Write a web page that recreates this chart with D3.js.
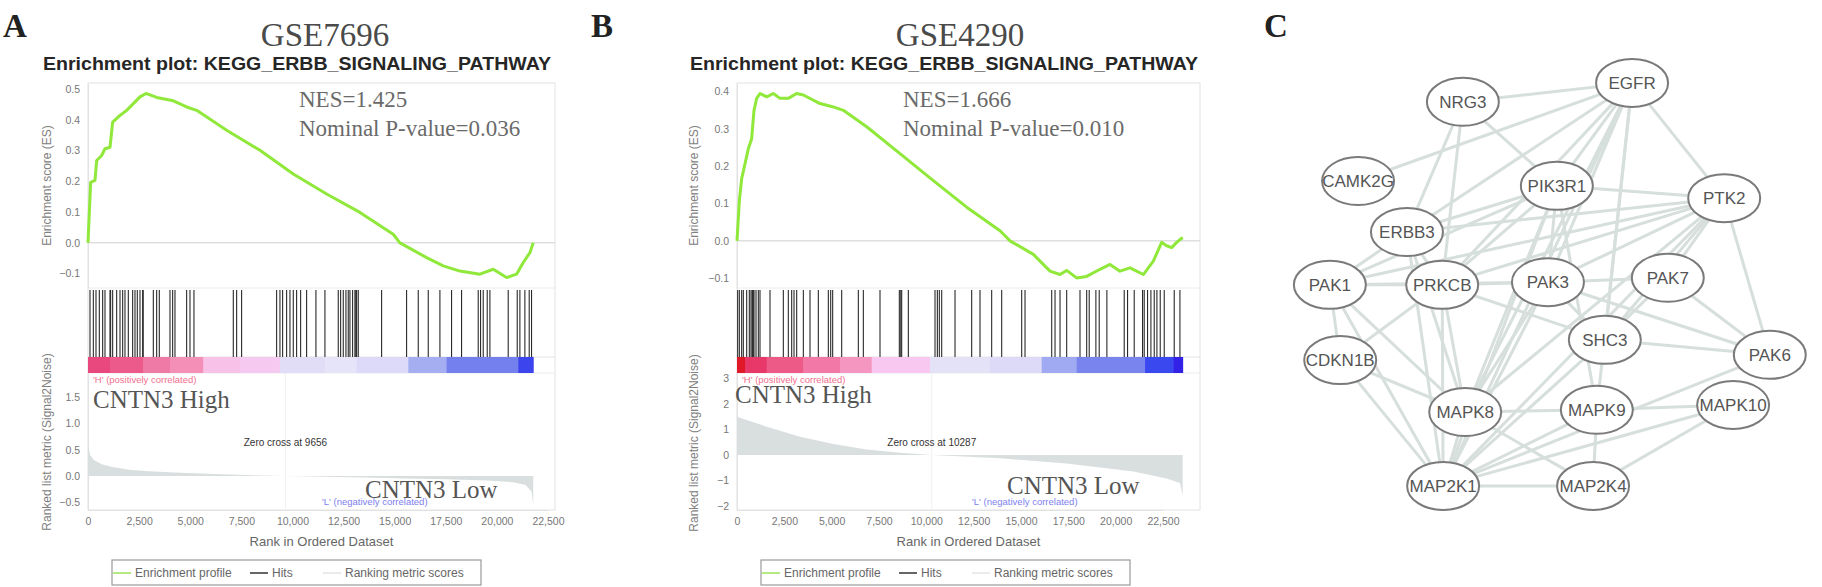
<!DOCTYPE html>
<html><head><meta charset="utf-8">
<script src="https://cdn.jsdelivr.net/npm/d3@7/dist/d3.min.js"></script>
<style>body{margin:0;background:#fff}svg{display:block}</style>
</head><body>
<svg id="c" width="1822" height="587"></svg>
<script>
// ---------------- DATA ----------------
const rankTicks = [0, 2500, 5000, 7500, 10000, 12500, 15000, 17500, 20000, 22500];
const rankTickLabels = ["0", "2,500", "5,000", "7,500", "10,000", "12,500", "15,000", "17,500", "20,000", "22,500"];

// Panel A : GSE7696
const datasetA = "GSE7696";
const nesTextA = ["NES=1.425", "Nominal P-value=0.036"];
const zeroCrossA = 9656;
const geneCountA = 21778;
const esTicksA = [-0.1, 0.0, 0.1, 0.2, 0.3, 0.4, 0.5];
const metricTicksA = [-0.5, 0.0, 0.5, 1.0, 1.5];
const esRankA = [0, 130, 342, 424, 668, 831, 1076, 1206, 1483, 1891, 2217, 2543, 2836, 3358, 4174, 4826, 5315, 6782, 8411, 10040, 11672, 13301, 14930, 15256, 16563, 17375, 18191, 19169, 19822, 20474, 20963, 21289, 21615, 21778];
const esScoreA = [0, 0.197, 0.203, 0.268, 0.284, 0.306, 0.311, 0.393, 0.41, 0.431, 0.453, 0.475, 0.486, 0.473, 0.462, 0.442, 0.431, 0.366, 0.301, 0.224, 0.159, 0.099, 0.028, 0.0, -0.048, -0.075, -0.092, -0.102, -0.086, -0.113, -0.102, -0.064, -0.032, 0.0];
const hitRankA = [98, 261, 391, 554, 717, 831, 1076, 1106, 1206, 1402, 1565, 1695, 1809, 1972, 2184, 2298, 2412, 2543, 2673, 2700, 3195, 3358, 3488, 4010, 4140, 4254, 4825, 4988, 5183, 7107, 7270, 7514, 9226, 9389, 9519, 9715, 9878, 10041, 10204, 10400, 10693, 11149, 11589, 12241, 12356, 12486, 12616, 12730, 12812, 12942, 13056, 13100, 13138, 13219, 14361, 15583, 16154, 16643, 17213, 17783, 18272, 19087, 19201, 19332, 19527, 19658, 20554, 20995, 21125, 21369, 21581, 21695];
const metricRankA = [0, 100, 300, 700, 1200, 2000, 3000, 4500, 6500, 8500, 9656, 11500, 13500, 15500, 17500, 19500, 20800, 21400, 21700, 21778];
const metricValueA = [0.62, 0.40, 0.30, 0.22, 0.17, 0.12, 0.09, 0.06, 0.035, 0.012, 0, -0.015, -0.03, -0.045, -0.06, -0.085, -0.12, -0.17, -0.3, -0.55];
const barStartA = [0, 1076, 2706, 4010, 5640, 7433, 9389, 11589, 13138, 15665, 17539, 21043];
const barColorA = ["#e8487e", "#ec5a8c", "#f07aa6", "#f48fb8", "#f8c2e8", "#f6caf0", "#e2ddf6", "#e6e4f8", "#dcdaf8", "#a6aef2", "#7480ee", "#3c44ee"];

// Panel B : GSE4290
const datasetB = "GSE4290";
const nesTextB = ["NES=1.666", "Nominal P-value=0.010"];
const zeroCrossB = 10287;
const geneCountB = 23538;
const esTicksB = [-0.1, 0.0, 0.1, 0.2, 0.3, 0.4];
const metricTicksB = [-2, -1, 0, 1, 2, 3];
const esRankB = [0, 123, 246, 422, 598, 774, 898, 1039, 1215, 1567, 1919, 2271, 2711, 3151, 3503, 4384, 5088, 5616, 6850, 8610, 10370, 12131, 13892, 14420, 15652, 16532, 17060, 17412, 17940, 18468, 19173, 19701, 20229, 20757, 21461, 21989, 22429, 22693, 22957, 23221, 23538];
const esScoreB = [0, 0.107, 0.166, 0.206, 0.246, 0.273, 0.349, 0.381, 0.394, 0.385, 0.394, 0.381, 0.381, 0.394, 0.39, 0.367, 0.358, 0.349, 0.305, 0.233, 0.161, 0.09, 0.027, 0.0, -0.036, -0.081, -0.09, -0.079, -0.099, -0.095, -0.076, -0.063, -0.081, -0.072, -0.09, -0.054, -0.004, -0.013, -0.018, -0.004, 0.009];
const hitRankB = [35, 123, 246, 334, 511, 651, 739, 800, 828, 860, 898, 1004, 1127, 1215, 1743, 2447, 2711, 2888, 3011, 3152, 3504, 3856, 4296, 4824, 4948, 5053, 5529, 6409, 6673, 7553, 8574, 8650, 8698, 9050, 10458, 10582, 10687, 10811, 11515, 12395, 12835, 13451, 13980, 15036, 15212, 16621, 16797, 17061, 17413, 18116, 18469, 18603, 18955, 19131, 19536, 20452, 20628, 20980, 21420, 21508, 21684, 21861, 22037, 22178, 22354, 22565, 23093, 23394];
const metricRankB = [0, 1567, 3328, 5088, 6850, 8610, 10287, 13892, 17412, 20933, 22693, 23397, 23538];
const metricValueB = [1.5, 1.11, 0.72, 0.43, 0.22, 0.09, 0, -0.13, -0.33, -0.65, -0.92, -1.1, -1.6];
const barStartB = [0, 422, 1567, 3504, 5441, 7114, 10194, 13364, 16093, 17942, 21551, 23048];
const barColorB = ["#e01828", "#e8386a", "#ee5a88", "#f278a8", "#f596c0", "#f8c8f0", "#e4e2f7", "#dcdaf7", "#a0aaf2", "#7a84ee", "#3a48f0", "#3222e8"];

const legendLabels = ["Enrichment profile", "Hits", "Ranking metric scores"];
const chartTitle = "Enrichment plot: KEGG_ERBB_SIGNALING_PATHWAY";

// Panel C : interaction network (layout units 0..1)
const nodeNames = ["EGFR", "NRG3", "CAMK2G", "PIK3R1", "PTK2", "ERBB3", "PAK1", "PRKCB", "PAK3", "PAK7", "SHC3", "PAK6", "CDKN1B", "MAPK8", "MAPK9", "MAPK10", "MAP2K1", "MAP2K4"];
const nodeLayoutX = [0.664, 0.304, 0.081, 0.504, 0.860, 0.185, 0.021, 0.260, 0.485, 0.740, 0.606, 0.957, 0.043, 0.309, 0.589, 0.879, 0.262, 0.581];
const nodeLayoutY = [0.052, 0.095, 0.275, 0.286, 0.314, 0.391, 0.511, 0.511, 0.505, 0.495, 0.636, 0.670, 0.682, 0.800, 0.795, 0.784, 0.968, 0.968];
const edgeSource = ["EGFR","EGFR","EGFR","EGFR","EGFR","EGFR","EGFR","EGFR","EGFR","EGFR","EGFR",
  "NRG3","NRG3","NRG3",
  "PIK3R1","PIK3R1","PIK3R1","PIK3R1","PIK3R1","PIK3R1","PIK3R1","PIK3R1",
  "PTK2","PTK2","PTK2","PTK2","PTK2","PTK2","PTK2","PTK2","PTK2",
  "ERBB3","ERBB3","ERBB3","ERBB3",
  "PAK1","PAK1","PAK1","PAK1","PAK1",
  "PRKCB","PRKCB","PRKCB","PRKCB","PRKCB",
  "PAK3","PAK3","PAK3","PAK3","PAK3",
  "PAK7","PAK7","SHC3","SHC3","CDKN1B","CDKN1B",
  "MAPK8","MAPK8","MAPK8","MAPK9","MAPK9","MAPK9","MAPK10","MAPK10","MAP2K1","PAK6"];
const edgeTarget = ["NRG3","CAMK2G","ERBB3","PIK3R1","PTK2","SHC3","PRKCB","PAK3","MAPK8","MAP2K1","MAPK9",
  "ERBB3","PRKCB","PIK3R1",
  "PTK2","ERBB3","PRKCB","PAK3","MAPK8","MAP2K1","PAK1","MAPK9",
  "ERBB3","PRKCB","PAK1","PAK3","PAK7","SHC3","PAK6","MAPK8","MAP2K1",
  "PAK1","PRKCB","MAPK8","MAP2K1",
  "PRKCB","PAK3","MAPK8","MAP2K1","CDKN1B",
  "PAK3","MAPK8","MAP2K1","CDKN1B","SHC3",
  "MAPK8","MAP2K1","PAK6","SHC3","PAK7",
  "PAK6","SHC3","PAK6","MAP2K1","MAPK8","MAP2K1",
  "MAPK9","MAP2K1","MAP2K4","MAPK10","MAP2K4","MAP2K1","MAP2K4","MAP2K1","MAP2K4","MAP2K1"];

// ---------------- DRAWING ----------------
const svg = d3.select("#c");
const SANS = "'Liberation Sans', Arial, sans-serif";
const SERIF = "'Liberation Serif', 'Times New Roman', serif";

function drawGsea(L, D) {
  const g = svg.append("g");
  const x = d3.scaleLinear().domain([0, 22500]).range([L.x0, L.x22500]);
  const yEs = d3.scaleLinear().domain(L.esDomain).range([L.esBottom, L.top]);
  const yMet = d3.scaleLinear().domain(L.metDomain).range([L.metBottom, L.barBottom]);

  // panel label and dataset title
  g.append("text").attr("x", L.labelX).attr("y", 37).attr("font-family", SERIF).attr("font-weight", "bold")
    .attr("font-size", 33).attr("fill", "#222").text(L.label);
  g.append("text").attr("x", L.dsX).attr("y", 46).attr("text-anchor", "middle").attr("font-family", SERIF)
    .attr("font-size", 33).attr("fill", "#4a4a4a").text(D.dataset);
  g.append("text").attr("x", L.titleX).attr("y", 70).attr("font-family", SANS).attr("font-weight", "bold")
    .attr("font-size", 17.5).attr("fill", "#262626").attr("textLength", 508).attr("lengthAdjust", "spacingAndGlyphs")
    .text(chartTitle);

  // plot background / frames
  g.append("rect").attr("x", L.frameLeft).attr("y", L.top).attr("width", L.frameRight - L.frameLeft)
    .attr("height", L.metBottom - L.top).attr("fill", "#fff").attr("stroke", "#e2e2e2");
  g.append("line").attr("x1", L.frameLeft).attr("x2", L.frameRight).attr("y1", L.esBottom).attr("y2", L.esBottom).attr("stroke", "#ececec");
  g.append("line").attr("x1", L.frameLeft).attr("x2", L.frameRight).attr("y1", L.hitBottom).attr("y2", L.hitBottom).attr("stroke", "#e4e4e4");
  g.append("line").attr("x1", L.frameLeft).attr("x2", L.frameRight).attr("y1", L.barBottom).attr("y2", L.barBottom).attr("stroke", "#ececec");

  // ES zero line
  g.append("line").attr("x1", L.frameLeft).attr("x2", L.frameRight).attr("y1", yEs(0)).attr("y2", yEs(0)).attr("stroke", "#cfcfcf");

  // ES axis
  const esAxis = d3.axisLeft(yEs).tickValues(D.esTicks).tickFormat(d3.format(".1f")).tickSize(0).tickPadding(8);
  const ga = g.append("g").attr("transform", `translate(${L.frameLeft},0)`).call(esAxis);
  ga.select(".domain").attr("stroke", "#e2e2e2");
  ga.selectAll("text").attr("font-family", SANS).attr("font-size", 10.5).attr("fill", "#777");

  // metric axis
  const metAxis = d3.axisLeft(yMet).tickValues(D.metTicks).tickFormat(D.metFormat).tickSize(0).tickPadding(8);
  const gm = g.append("g").attr("transform", `translate(${L.frameLeft},0)`).call(metAxis);
  gm.select(".domain").attr("stroke", "#e2e2e2");
  gm.selectAll("text").attr("font-family", SANS).attr("font-size", 10.5).attr("fill", "#777");

  // x axis
  const xAxis = d3.axisBottom(x).tickValues(rankTicks).tickFormat((d, i) => rankTickLabels[i]).tickSize(0).tickPadding(8);
  const gx = g.append("g").attr("transform", `translate(0,${L.metBottom})`).call(xAxis);
  gx.select(".domain").attr("stroke", "#e2e2e2");
  gx.selectAll("text").attr("font-family", SANS).attr("font-size", 10.5).attr("fill", "#777");

  // axis titles
  g.append("text").attr("transform", `translate(${L.esTitleX},${(L.top + L.esBottom) / 2}) rotate(-90)`)
    .attr("text-anchor", "middle").attr("font-family", SANS).attr("font-size", 12).attr("fill", "#808080")
    .text("Enrichment score (ES)");
  g.append("text").attr("transform", `translate(${L.esTitleX},${L.metTitleY}) rotate(-90)`)
    .attr("text-anchor", "middle").attr("font-family", SANS).attr("font-size", 12).attr("fill", "#808080")
    .text("Ranked list metric (Signal2Noise)");
  g.append("text").attr("x", (L.frameLeft + L.frameRight) / 2).attr("y", 546).attr("text-anchor", "middle")
    .attr("font-family", SANS).attr("font-size", 13).attr("fill", "#666").text("Rank in Ordered Dataset");

  // zero cross vertical line
  g.append("line").attr("x1", x(D.zeroCross)).attr("x2", x(D.zeroCross)).attr("y1", L.barBottom).attr("y2", L.metBottom).attr("stroke", "#f0f0f0");

  // ranked metric area
  const met = D.metricRank.map((r, i) => [r, D.metricValue[i]]);
  g.append("path").datum(met)
    .attr("d", d3.area().x(d => x(d[0])).y0(yMet(0)).y1(d => yMet(d[1])))
    .attr("fill", "#d9dfdf");

  // hits
  g.append("g").selectAll("line").data(D.hits).join("line")
    .attr("x1", d => x(d)).attr("x2", d => x(d)).attr("y1", L.hitTop).attr("y2", L.hitBottom)
    .attr("stroke", "#2a2a2a").attr("stroke-width", 1.1);

  // color bar
  const barEnds = D.barStart.slice(1).concat([D.geneCount]);
  g.append("g").selectAll("rect").data(D.barStart).join("rect")
    .attr("x", d => x(d)).attr("width", (d, i) => x(barEnds[i]) - x(d) + 0.5)
    .attr("y", L.hitBottom).attr("height", L.barBottom - L.hitBottom)
    .attr("fill", (d, i) => D.barColor[i]);

  // ES curve
  const es = D.esRank.map((r, i) => [r, D.esScore[i]]);
  g.append("path").datum(es).attr("d", d3.line().x(d => x(d[0])).y(d => yEs(d[1])))
    .attr("fill", "none").attr("stroke", "#8fe83a").attr("stroke-width", 3).attr("stroke-linejoin", "round");

  // annotations
  g.append("text").attr("x", L.nesX).attr("y", 107).attr("font-family", SERIF).attr("font-size", 23).attr("fill", "#6a6a6a").text(D.nes[0]);
  g.append("text").attr("x", L.nesX).attr("y", 136).attr("font-family", SERIF).attr("font-size", 23).attr("fill", "#6a6a6a").text(D.nes[1]);
  g.append("text").attr("x", x(0) + 5).attr("y", 383).attr("font-family", SANS).attr("font-size", 9.5).attr("fill", "#f0708e")
    .text("'H' (positively correlated)");
  g.append("text").attr("x", L.lowTagX).attr("y", 505).attr("font-family", SANS).attr("font-size", 9.5).attr("fill", "#8080f0")
    .text("'L' (negatively correlated)");
  g.append("text").attr("x", x(D.zeroCross)).attr("y", 446).attr("text-anchor", "middle").attr("font-family", SANS)
    .attr("font-size", 10).attr("fill", "#333").text("Zero cross at " + D.zeroCross);
  g.append("text").attr("x", L.highX).attr("y", L.highY).attr("font-family", SERIF).attr("font-size", 25).attr("fill", "#555").text("CNTN3 High");
  g.append("text").attr("x", L.lowX).attr("y", L.lowY).attr("font-family", SERIF).attr("font-size", 25).attr("fill", "#555").text("CNTN3 Low");

  // legend
  const lg = g.append("g").attr("transform", `translate(${L.legendX},560)`);
  lg.append("rect").attr("width", 369).attr("height", 25).attr("fill", "#fff").attr("stroke", "#9a9a9a").attr("stroke-width", 1.2);
  const lcol = ["#9be25a", "#333", "#e4e4e4"];
  const lx = [1, 138, 211];
  legendLabels.forEach((t, i) => {
    lg.append("line").attr("x1", lx[i]).attr("x2", lx[i] + 18).attr("y1", 13).attr("y2", 13).attr("stroke", lcol[i]).attr("stroke-width", 1.5);
    lg.append("text").attr("x", lx[i] + 22).attr("y", 17).attr("font-family", SANS).attr("font-size", 12).attr("fill", "#666").text(t);
  });
}

drawGsea({
  label: "A", labelX: 3, dsX: 325, titleX: 43,
  x0: 88, x22500: 548, frameLeft: 88, frameRight: 555,
  top: 83, esBottom: 288, hitTop: 290, hitBottom: 357, barBottom: 373, metBottom: 510,
  esDomain: [-0.147, 0.52], metDomain: [-0.646, 1.958],
  esTitleX: 51, metTitleY: 442, nesX: 299,
  highX: 93, highY: 408, lowX: 365, lowY: 498, lowTagX: 322, legendX: 112
}, {
  dataset: datasetA, nes: nesTextA, zeroCross: zeroCrossA, geneCount: geneCountA,
  esTicks: esTicksA, metTicks: metricTicksA, metFormat: d3.format(".1f"),
  esRank: esRankA, esScore: esScoreA, hits: hitRankA,
  metricRank: metricRankA, metricValue: metricValueA, barStart: barStartA, barColor: barColorA
});

drawGsea({
  label: "B", labelX: 591, dsX: 960, titleX: 690,
  x0: 737, x22500: 1163, frameLeft: 737, frameRight: 1200,
  top: 83, esBottom: 288, hitTop: 290, hitBottom: 357, barBottom: 373, metBottom: 510,
  esDomain: [-0.126, 0.422], metDomain: [-2.157, 3.216],
  esTitleX: 698, metTitleY: 443, nesX: 903,
  highX: 735, highY: 403, lowX: 1007, lowY: 494, lowTagX: 972, legendX: 761
}, {
  dataset: datasetB, nes: nesTextB, zeroCross: zeroCrossB, geneCount: geneCountB,
  esTicks: esTicksB, metTicks: metricTicksB, metFormat: d3.format("d"),
  esRank: esRankB, esScore: esScoreB, hits: hitRankB,
  metricRank: metricRankB, metricValue: metricValueB, barStart: barStartB, barColor: barColorB
});

// ---------------- Panel C ----------------
(function () {
  const g = svg.append("g");
  g.append("text").attr("x", 1264).attr("y", 37).attr("font-family", SERIF).attr("font-weight", "bold")
    .attr("font-size", 33).attr("fill", "#222").text("C");
  const nx = d3.scaleLinear().domain([0, 1]).range([1320, 1790]);
  const ny = d3.scaleLinear().domain([0, 1]).range([60, 500]);
  const idx = new Map(nodeNames.map((n, i) => [n, i]));
  const edges = edgeSource.map((s, i) => [idx.get(s), idx.get(edgeTarget[i])]);
  g.append("g").selectAll("line").data(edges).join("line")
    .attr("x1", d => nx(nodeLayoutX[d[0]])).attr("y1", d => ny(nodeLayoutY[d[0]]))
    .attr("x2", d => nx(nodeLayoutX[d[1]])).attr("y2", d => ny(nodeLayoutY[d[1]]))
    .attr("stroke", "#d6dfdc").attr("stroke-width", 3);
  const ng = g.append("g").selectAll("g").data(nodeNames).join("g")
    .attr("transform", (d, i) => `translate(${nx(nodeLayoutX[i])},${ny(nodeLayoutY[i])})`);
  ng.append("ellipse").attr("rx", 36).attr("ry", 24).attr("fill", "#fff").attr("stroke", "#7a7a7a").attr("stroke-width", 2);
  ng.append("text").attr("text-anchor", "middle").attr("dy", 6).attr("font-family", SANS).attr("font-size", 17)
    .attr("fill", "#555").text(d => d);
})();
</script>
</body></html>
